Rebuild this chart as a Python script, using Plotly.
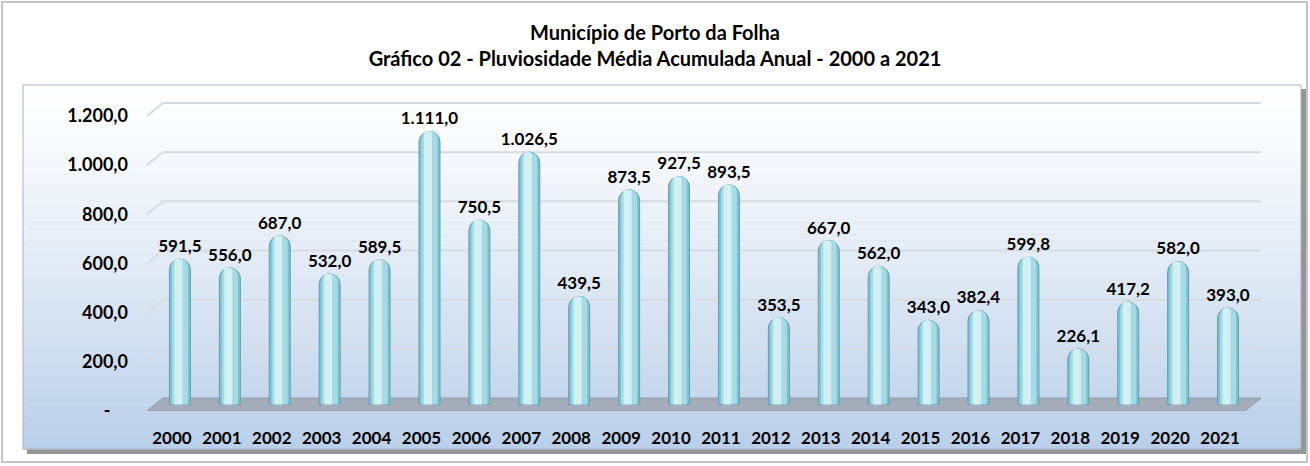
import plotly.graph_objects as go

# ---------------- data ----------------
years = [str(y) for y in range(2000, 2022)]
rainfall = [591.5, 556.0, 687.0, 532.0, 589.5, 1111.0, 750.5, 1026.5, 439.5, 873.5,
            927.5, 893.5, 353.5, 667.0, 562.0, 343.0, 382.4, 599.8, 226.1, 417.2,
            582.0, 393.0]
y_tickvals = [0, 200, 400, 600, 800, 1000, 1200]
title_line1 = "Município de Porto da Folha"
title_line2 = "Gráfico 02 - Pluviosidade Média Acumulada Anual - 2000 a 2021"


def fmt_br(v):
    s = f"{v:,.1f}"
    return s.replace(",", "#").replace(".", ",").replace("#", ".")


y_ticktext = ["-\u00a0\u00a0\u00a0\u00a0" if v == 0 else fmt_br(v) for v in y_tickvals]
labels = [fmt_br(v) for v in rainfall]

# ---------------- geometry ----------------
W, H = 1310, 466
L, R, T, B = 147, 65, 100, 55
PW, PH = W - L - R, H - T - B
YMAX = 1265.0
px_per_unit = PH / YMAX
DEPTH_X = 16 / PW          # paper units
DEPTH_Y = 13 / px_per_unit  # y units
MID_Y = DEPTH_Y / 2
BAR_SHIFT = 0.16            # category units (3D mid-depth shift)


def xp(p):
    return (p - L) / PW


def yp(p):
    return (H - B - p) / PH


FONT = "Lato"

fig = go.Figure()

# cylinder-looking bars: overlaid bars of decreasing width
layers = [
    (0.42, "#80c2cf", "#5f9fae", 1.0),
    (0.32, "#a6dae4", None, 0),
    (0.16, "#d0f0f4", None, 0),
]
for i, (w, col, lcol, lw) in enumerate(layers):
    shift = BAR_SHIFT - (0.03 if i == 2 else 0.0)
    fig.add_trace(go.Bar(
        x=years, y=rainfall, yaxis="y2",
        width=w, offset=shift - w / 2,
        marker=dict(color=col, cornerradius="50%",
                    line=dict(color=lcol if lcol else col, width=lw)),
        text=labels if i == 0 else None,
        textposition="outside" if i == 0 else "none",
        constraintext="none",
        textfont=dict(family=FONT, size=17, color="black", weight="bold"),
        cliponaxis=False,
        hoverinfo="skip" if i else "x+y",
        showlegend=False,
    ))

shapes = []
# outer frame
shapes.append(dict(type="rect", xref="paper", yref="paper",
                   x0=xp(2), x1=xp(1307), y0=yp(2), y1=yp(462),
                   fillcolor="white", line=dict(color="#c4c4c4", width=2), layer="below"))
# panel shadow
shapes.append(dict(type="rect", xref="paper", yref="paper",
                   x0=xp(27), x1=xp(1306), y0=yp(89), y1=yp(454),
                   fillcolor="#959595", line=dict(width=0), layer="below"))
# panel gradient bands
top_c, bot_c = (255, 255, 255), (186, 207, 233)
p0, p1, n = 85, 449, 61
for k in range(n):
    a = p0 + (p1 - p0) * k / n
    b = p0 + (p1 - p0) * (k + 1) / n
    t = k / (n - 1)
    t = t ** 1.2
    c = tuple(round(top_c[j] + (bot_c[j] - top_c[j]) * t) for j in range(3))
    shapes.append(dict(type="rect", xref="paper", yref="paper",
                       x0=xp(23), x1=xp(1301), y0=yp(a), y1=yp(b + 0.6),
                       fillcolor=f"rgb{c}", line=dict(width=0), layer="below"))
shapes.append(dict(type="rect", xref="paper", yref="paper",
                   x0=xp(23), x1=xp(1301), y0=yp(85), y1=yp(449),
                   fillcolor="rgba(0,0,0,0)", line=dict(color="#a9b2bd", width=1), layer="below"))

# 3D gridlines (front stub + back wall line)
for v in y_tickvals[1:]:
    shapes.append(dict(type="path", xref="paper", yref="y",
                       path=f"M 0,{v} L {DEPTH_X},{v + DEPTH_Y} L {1 + DEPTH_X},{v + DEPTH_Y}",
                       line=dict(color="#d6dbe2", width=2), layer="below"))

# floor
shapes.append(dict(type="path", xref="paper", yref="y",
                   path=f"M 0,0 L 1,0 L {1 + DEPTH_X},{DEPTH_Y} L {DEPTH_X},{DEPTH_Y} Z",
                   fillcolor="#a4adb9", line=dict(color="#8e98a5", width=1), layer="below"))
shapes.append(dict(type="path", xref="paper", yref="y",
                   path=f"M 0,0 L 1,0 L 1,{-2 / px_per_unit} L 0,{-2 / px_per_unit} Z",
                   fillcolor="#c3cad3", line=dict(width=0), layer="below"))

fig.update_layout(
    width=W, height=H,
    margin=dict(l=L, r=R, t=T, b=B),
    paper_bgcolor="white", plot_bgcolor="rgba(0,0,0,0)",
    barmode="overlay",
    shapes=shapes,
    title=dict(text=f"{title_line1}<br>{title_line2}",
               x=0.5, xref="container", xanchor="center",
               y=1 - 40 / H, yref="container", yanchor="middle",
               font=dict(family=FONT, size=20, color="black", weight="bold")),
    xaxis=dict(type="category", categoryorder="array", categoryarray=years,
               range=[-0.5, len(years) - 0.5],
               showgrid=False, zeroline=False, showline=False, ticks="",
               ticklabelstandoff=15,
               tickfont=dict(family=FONT, size=17, color="black", weight="bold")),
    yaxis=dict(range=[0, YMAX], tickvals=y_tickvals, ticktext=y_ticktext,
               showgrid=False, zeroline=False, showline=False, ticks="",
               ticklabelstandoff=18,
               tickfont=dict(family=FONT, size=18, color="black", weight="bold")),
    yaxis2=dict(range=[-MID_Y, YMAX - MID_Y], overlaying="y", visible=False),
)

fig.write_html("out.html", config={"displayModeBar": False},
               post_script="document.body.style.margin='0px';")
